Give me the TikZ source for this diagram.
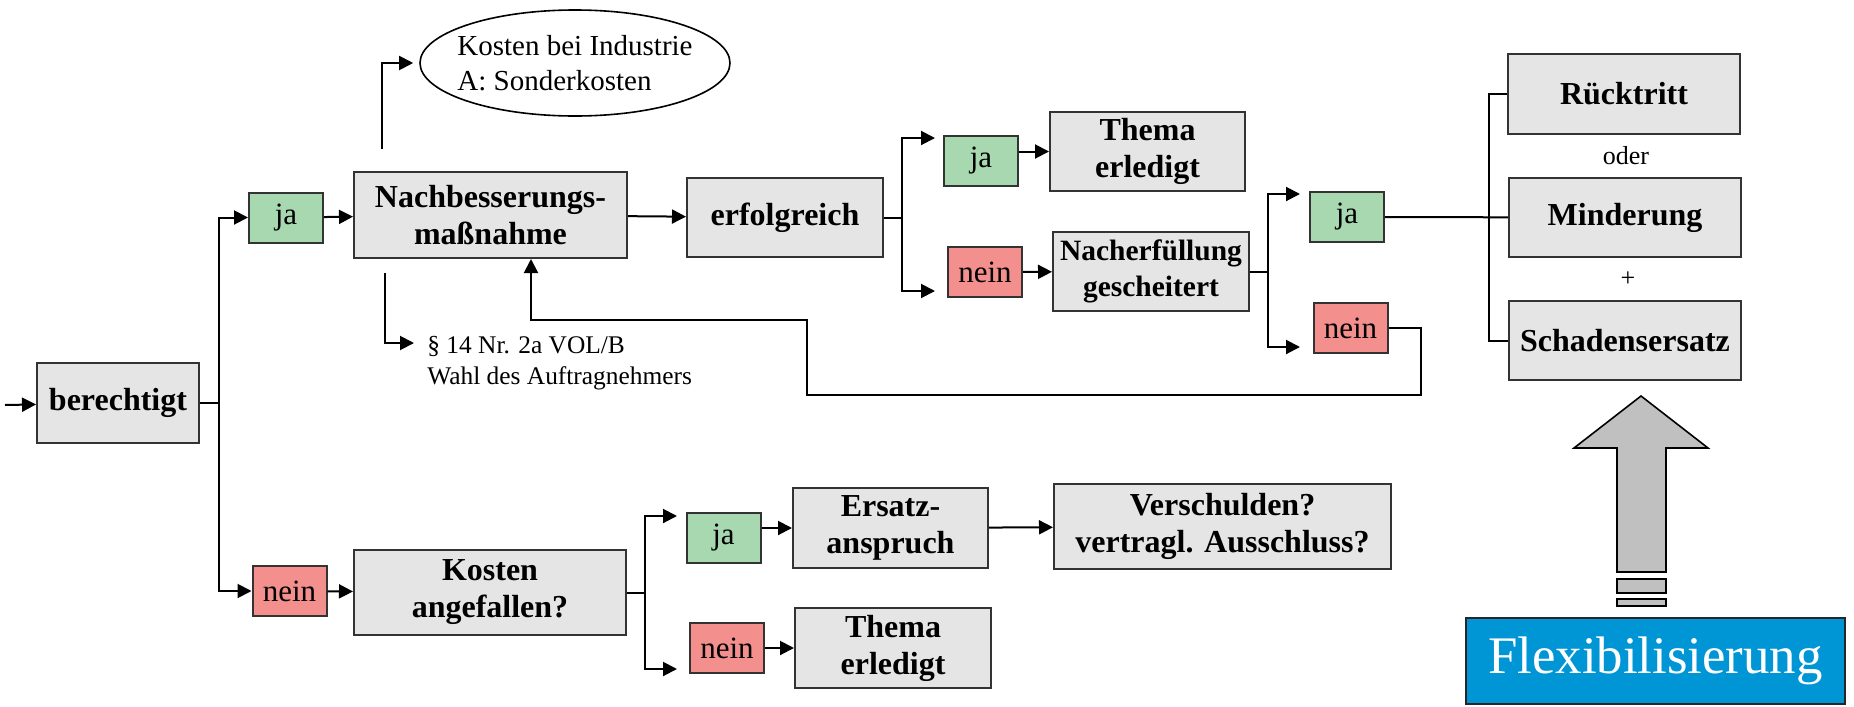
\documentclass[tikz,border=0pt]{standalone}
\usepackage{fontspec}
\setmainfont{Liberation Serif}
\usetikzlibrary{shapes.geometric, arrows.meta}

\definecolor{boxgray}{RGB}{229,229,229}
\definecolor{jagreen}{RGB}{168,216,176}
\definecolor{neinred}{RGB}{243,143,140}
\definecolor{arrowgray}{RGB}{192,192,192}
\definecolor{flexblue}{RGB}{0,150,214}

\tikzset{
  box/.style={draw=black!80, line width=1pt, fill=boxgray, align=center, inner sep=0pt,
    font=\fontsize{16}{18.5}\selectfont\bfseries},
  dims/.style 2 args={minimum width=#1pt, minimum height=#2pt},
  jabox/.style={draw=black!80, line width=1pt, fill=jagreen, inner sep=0pt,
    minimum width=37pt, minimum height=25pt, font=\fontsize{15.5}{18}\selectfont},
  neinbox/.style={jabox, fill=neinred},
  arr/.style={line width=1pt, -{Triangle[length=7pt, width=7pt]}},
  conn/.style={line width=1pt}
}

\begin{document}
\begin{tikzpicture}[x=0.5pt, y=-0.5pt]
  \useasboundingbox (0,0) rectangle (1854,707);

  % Nodes
  \node[box, dims={81}{40}] (berechtigt) at (118,403) {berechtigt};
  \node[jabox] (ja1) at (286,217.5) {ja};
  \node[box, dims={136.5}{43}] (nachbesserung) at (490.5,215) {Nachbesserungs-\\maßnahme};
  \node[ellipse, draw, line width=0.8pt, inner xsep=-4pt, inner ysep=0pt, minimum width=155pt, minimum height=53pt,
    align=left, font=\fontsize{14.5}{17.5}\selectfont] (sonderkosten) at (575,63) {Kosten bei Industrie\\A: Sonderkosten};
  \node[anchor=north west, inner sep=0pt, align=left, font=\fontsize{12.7}{15.5}\selectfont] (vob) at (427,336) {§ 14 Nr. 2a VOL/B\\Wahl des Auftragnehmers};
  \node[box, dims={98}{39.5}] (erfolgreich) at (785,217.5) {erfolgreich};
  \node[jabox] (ja2) at (981,161) {ja};
  \node[box, dims={97.5}{39.5}] (erledigt1) at (1147.5,151.5) {Thema\\erledigt};
  \node[neinbox] (nein2) at (985,272) {nein};
  \node[box, dims={98}{39.5}, font=\fontsize{14.75}{18}\selectfont\bfseries] (gescheitert) at (1151,271.5) {Nacherfüllung\\gescheitert};
  \node[jabox] (ja3) at (1347,217) {ja};
  \node[neinbox] (nein3) at (1350.5,328) {nein};
  \node[box, dims={116}{40}] (ruecktritt) at (1624,93.5) {Rücktritt};
  \node[font=\fontsize{13}{15}\selectfont] (oder) at (1626,156) {oder};
  \node[box, dims={116}{39.5}] (minderung) at (1625,217.5) {Minderung};
  \node[font=\fontsize{13}{15}\selectfont] (plus) at (1628,279) {+};
  \node[box, dims={116}{39.5}] (schadensersatz) at (1625,340.5) {Schadensersatz};
  \node[draw=black!85, line width=1.2pt, fill=flexblue, text=white, inner sep=0pt,
    dims={189.5}{43}, font=\fontsize{26.4}{30}\selectfont] (flex) at (1655.5,661) {Flexibilisierung};
  \node[neinbox] (nein1) at (289.5,591) {nein};
  \node[box, dims={136}{42.5}] (angefallen) at (490,592.5) {Kosten\\angefallen?};
  \node[jabox] (ja4) at (723.5,537.5) {ja};
  \node[box, dims={97.5}{40}] (ersatz) at (890.5,528) {Ersatz-\\anspruch};
  \node[box, dims={168.5}{42.5}] (verschulden) at (1222.5,526.5) {Verschulden?\\vertragl. Ausschluss?};
  \node[neinbox] (nein4) at (727,648) {nein};
  \node[box, dims={98}{40}] (erledigt2) at (893,648) {Thema\\erledigt};

  % Junctions
  \coordinate (start) at (5,405);
  \coordinate (j1) at (219,403);
  \coordinate (j2) at (902,217.5);
  \coordinate (j2a) at (935,138);
  \coordinate (j2b) at (935,291);
  \coordinate (j3) at (1268,271.5);
  \coordinate (j3a) at (1300,194);
  \coordinate (j3b) at (1300,347);
  \coordinate (j4) at (645,592.5);
  \coordinate (j4a) at (677,516);
  \coordinate (j4b) at (677,669);
  \coordinate (fb1) at (1421,395);
  \coordinate (fb2) at (807,320);

  % Edges
  \draw[arr] (start) -- (berechtigt);
  \draw[arr] (berechtigt.east) -- (j1) |- (ja1.west);
  \draw[arr] (j1) |- (nein1.west);
  \draw[arr] (ja1) -- (nachbesserung);
  \draw[arr, shorten >=3pt] ([xshift=14.5pt, yshift=11pt]nachbesserung.north west) |- (sonderkosten.west);
  \draw[arr] ([xshift=16pt, yshift=-7pt]nachbesserung.south west) |- ([xshift=-6.5pt, yshift=-3.5pt]vob.north west);
  \draw[arr] (nachbesserung) -- (erfolgreich);
  \draw[arr] (erfolgreich.east) -- (j2) |- (j2a);
  \draw[arr] (j2) |- (j2b);
  \draw[arr] (ja2.east |- erledigt1) -- (erledigt1.west);
  \draw[arr] (nein2) -- (gescheitert);
  \draw[arr] (gescheitert.east) -- (j3) |- (j3a);
  \draw[arr] (j3) |- (j3b);
  \draw[conn] (ja3) -- (minderung);
  \draw[conn] (ruecktritt.west) -- ++(-9pt,0) |- (schadensersatz.west);
  \draw[arr] (nein3.east) -| (fb1) -| (fb2) -| ([xshift=20.25pt]nachbesserung.south);
  \draw[arr] (nein1) -- (angefallen);
  \draw[arr] (angefallen.east) -- (j4) |- (j4a);
  \draw[arr] (j4) |- (j4b);
  \draw[arr] (ja4.east |- ersatz) -- (ersatz.west);
  \draw[arr] (ersatz) -- (verschulden);
  \draw[arr] (nein4) -- (erledigt2);

  % Block arrow
  \draw[fill=arrowgray, line width=0.8pt] (1641,396) -- (1708,448) -- (1666,448) -- (1666,572)
    -- (1617,572) -- (1617,448) -- (1574,448) -- cycle;
  \draw[fill=arrowgray, line width=0.8pt] (1617,579) rectangle (1666,593);
  \draw[fill=arrowgray, line width=0.8pt] (1617,599) rectangle (1666,606);
\end{tikzpicture}
\end{document}
